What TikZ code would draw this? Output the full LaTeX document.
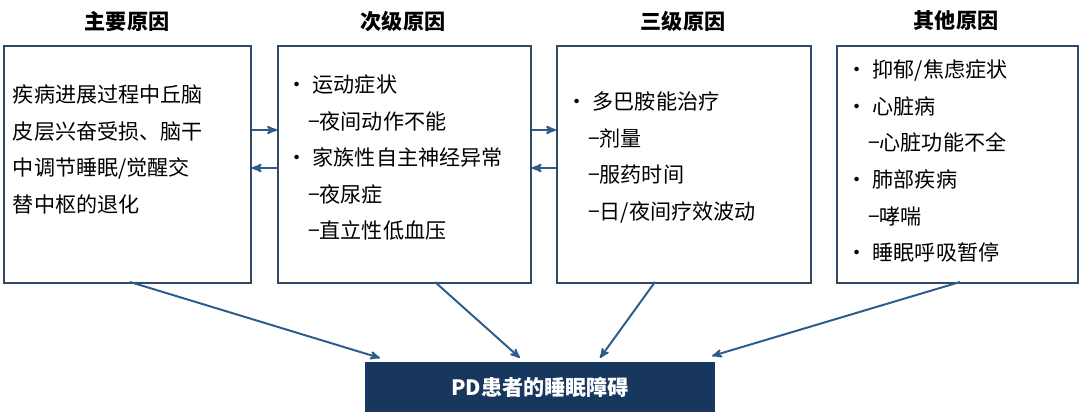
\documentclass[tikz,border=0pt]{standalone}
\usepackage{fontspec}
\setmainfont{Noto Sans CJK SC}
\usetikzlibrary{arrows,positioning}
\definecolor{boxline}{HTML}{2F4A66}
\definecolor{arrowblue}{HTML}{2E5C8A}
\definecolor{navy}{HTML}{17375E}
\begin{document}
\begin{tikzpicture}[x=0.025cm,y=-0.025cm,>=stealth',
  cause box/.style={draw=boxline,line width=1.3pt,minimum width=#1,minimum height=237*0.025cm,anchor=north west},
  title node/.style={font=\fontsize{15}{17}\selectfont\bfseries},
  body node/.style={anchor=north west,align=left,font=\fontsize{15}{26}\selectfont},
  link/.style={->,draw=arrowblue,line width=1.4pt}]
  \useasboundingbox (0,0) rectangle (1080,419);

  \node[cause box=247*0.025cm] (main) at (3,45) {};
  \node[cause box=253*0.025cm] (second) at (277,45) {};
  \node[cause box=254*0.025cm] (third) at (556,45) {};
  \node[cause box=241*0.025cm] (other) at (836,45) {};

  \node[title node] (t1) at (127,21) {主要原因};
  \node[title node] (t2) at (403,21) {次级原因};
  \node[title node] (t3) at (683,21) {三级原因};
  \node[title node] (t4) at (956,21) {其他原因};

  \node[body node] (b1) at (8,80) {疾病进展过程中丘脑\\皮层兴奋受损、脑干\\中调节睡眠/觉醒交\\替中枢的退化};
  \node[body node] (b2) at (282,70) {• 运动症状\\\quad −夜间动作不能\\• 家族性自主神经异常\\\quad −夜尿症\\\quad −直立性低血压};
  \node[body node] (b3) at (562,87) {• 多巴胺能治疗\\\quad −剂量\\\quad −服药时间\\\quad −日/夜间疗效波动};
  \node[body node] (b4) at (842,55) {• 抑郁/焦虑症状\\• 心脏病\\\quad −心脏功能不全\\• 肺部疾病\\\quad −哮喘\\• 睡眠呼吸暂停};

  \node[fill=navy,text=white,font=\fontsize{15}{17}\selectfont\bfseries,minimum width=350*0.025cm,minimum height=50*0.025cm] (pd) at (540,387) {PD患者的睡眠障碍};

  \coordinate (m1) at (130,282);
  \coordinate (m2) at (435,282);
  \coordinate (m3) at (655,282);
  \coordinate (m4) at (960,282);
  \coordinate (p1) at (380,358);
  \coordinate (p2) at (520,358);
  \coordinate (p3) at (600,358);
  \coordinate (p4) at (712,356);

  \draw[link] (m1) -- (p1);
  \draw[link] (m2) -- (p2);
  \draw[link] (m3) -- (p3);
  \draw[link] (m4) -- (p4);

  \draw[link] (main.east |- 0,130) -- (second.west |- 0,130);
  \draw[link] (second.west |- 0,168) -- (main.east |- 0,168);
  \draw[link] (second.east |- 0,130) -- (third.west |- 0,130);
  \draw[link] (third.west |- 0,168) -- (second.east |- 0,168);
\end{tikzpicture}
\end{document}
